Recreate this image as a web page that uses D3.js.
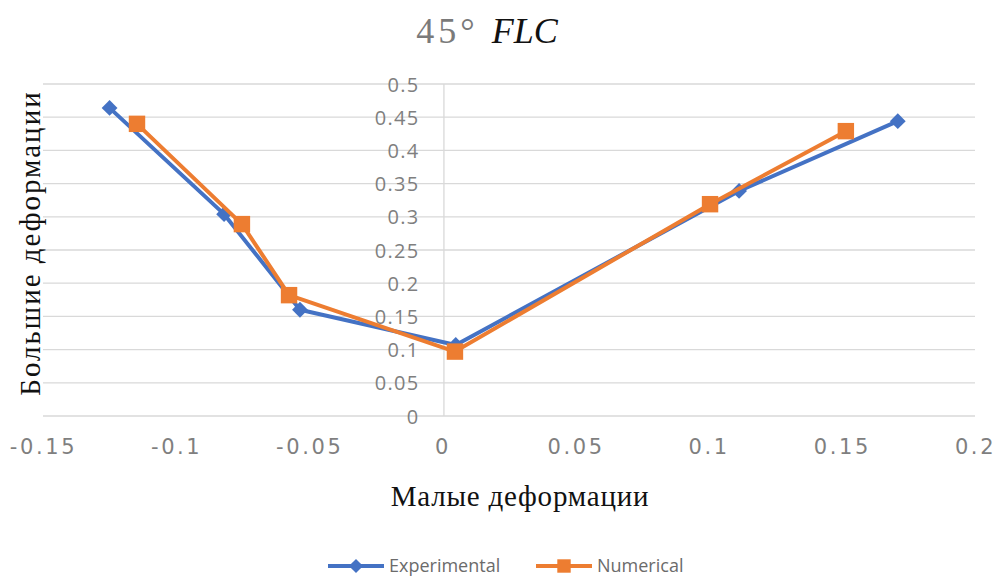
<!DOCTYPE html>
<html>
<head>
<meta charset="utf-8">
<script src="https://cdn.jsdelivr.net/npm/d3@7"></script>
<style>
  html, body { margin: 0; padding: 0; background: #fff; }
  svg { display: block; }
</style>
</head>
<body>
<svg id="chart" width="999" height="580"></svg>
<script>
// Forming limit curve data: minor strain (x) vs major strain (y)
const experimentalMinor = [-0.125, -0.082, -0.0535, 0.005, 0.1114, 0.171];
const experimentalMajor = [0.464, 0.304, 0.160, 0.107, 0.339, 0.444];
const numericalMinor = [-0.1147, -0.0753, -0.0576, 0.0047, 0.1005, 0.1515];
const numericalMajor = [0.440, 0.289, 0.182, 0.097, 0.319, 0.429];

const xTicks = [-0.15, -0.1, -0.05, 0, 0.05, 0.1, 0.15, 0.2];
const yTicks = [0, 0.05, 0.1, 0.15, 0.2, 0.25, 0.3, 0.35, 0.4, 0.45, 0.5];

const seriesNames = ["Experimental", "Numerical"];
const seriesColors = ["#4472C4", "#ED7D31"];

const svg = d3.select("#chart");

const x = d3.scaleLinear().domain([-0.15, 0.2]).range([43, 975]);
const y = d3.scaleLinear().domain([0, 0.5]).range([416, 84]);

const fmt = d => String(d);

// horizontal gridlines
svg.append("g")
  .selectAll("line")
  .data(yTicks)
  .join("line")
  .attr("x1", x.range()[0]).attr("x2", x.range()[1])
  .attr("y1", d => y(d)).attr("y2", d => y(d))
  .attr("stroke", "#d9d9d9").attr("stroke-width", 1.3);

// vertical axis line at x = 0
svg.append("line")
  .attr("x1", x(0) + 1.5).attr("x2", x(0) + 1.5)
  .attr("y1", y(0.5)).attr("y2", y(0))
  .attr("stroke", "#d9d9d9").attr("stroke-width", 1.3);

// y tick labels placed next to the crossing axis
const yAxis = d3.axisLeft(y).tickValues(yTicks).tickFormat(fmt).tickSize(0).tickPadding(0);
const gy = svg.append("g").attr("transform", `translate(${x(0) - 23},0)`).call(yAxis);
gy.select(".domain").remove();
gy.selectAll("text")
  .attr("font-family", "'Open Sans', 'DejaVu Sans', sans-serif")
  .attr("font-size", 20)
  .attr("letter-spacing", 1.3)
  .attr("fill", "#7f7f7f")
  .attr("dy", "0.35em");

// x tick labels along the bottom
const xAxis = d3.axisBottom(x).tickValues(xTicks).tickFormat(fmt).tickSize(0).tickPadding(0);
const gx = svg.append("g").attr("transform", "translate(0,439)").call(xAxis);
gx.select(".domain").remove();
gx.selectAll("text")
  .attr("font-family", "'DejaVu Sans', sans-serif")
  .attr("font-size", 21)
  .attr("letter-spacing", 2.6)
  .attr("fill", "#7f7f7f")
  .attr("dy", "0.71em");

// series
const series = [
  { name: seriesNames[0], color: seriesColors[0], xs: experimentalMinor, ys: experimentalMajor, size: 125, rot: 45 },
  { name: seriesNames[1], color: seriesColors[1], xs: numericalMinor, ys: numericalMajor, size: 270, rot: 0 }
];

const line = d3.line().x(d => x(d[0])).y(d => y(d[1]));

series.forEach(s => {
  const pts = s.xs.map((v, i) => [v, s.ys[i]]);
  svg.append("path")
    .datum(pts)
    .attr("d", line)
    .attr("fill", "none")
    .attr("stroke", s.color)
    .attr("stroke-width", 4)
    .attr("stroke-linejoin", "round");
  svg.append("g")
    .selectAll("path")
    .data(pts)
    .join("path")
    .attr("transform", d => `translate(${x(d[0])},${y(d[1])}) rotate(${s.rot})`)
    .attr("d", d3.symbol().type(d3.symbolSquare).size(s.size))
    .attr("fill", s.color);
});

// title
const title = svg.append("text")
  .attr("x", 487).attr("y", 43)
  .attr("text-anchor", "middle")
  .attr("font-family", "'Liberation Serif', 'DejaVu Serif', serif")
  .attr("font-size", 36);
title.append("tspan").attr("fill", "#7a7a7a").attr("letter-spacing", 4).text("45° ");
title.append("tspan").attr("fill", "#111").attr("font-style", "italic").text("FLC");

// axis titles
svg.append("text")
  .attr("transform", "translate(40,243) rotate(-90)")
  .attr("text-anchor", "middle")
  .attr("font-family", "'Liberation Serif', 'DejaVu Serif', serif")
  .attr("font-size", 29)
  .attr("letter-spacing", 2)
  .attr("fill", "#111")
  .text("Большие деформации");

svg.append("text")
  .attr("x", 520).attr("y", 506)
  .attr("text-anchor", "middle")
  .attr("font-family", "'Liberation Serif', 'DejaVu Serif', serif")
  .attr("font-size", 29)
  .attr("letter-spacing", 0.8)
  .attr("fill", "#111")
  .text("Малые деформации");

// legend
const legendItems = [
  { x0: 328, ...series[0] },
  { x0: 536, ...series[1] }
];
const lg = svg.append("g").attr("transform", "translate(0,566)");
legendItems.forEach((it, i) => {
  lg.append("line")
    .attr("x1", it.x0).attr("x2", it.x0 + 56)
    .attr("stroke", it.color).attr("stroke-width", 4);
  lg.append("path")
    .attr("transform", `translate(${it.x0 + 28},0) rotate(${it.rot})`)
    .attr("d", d3.symbol().type(d3.symbolSquare).size(i === 0 ? 100 : 180))
    .attr("fill", it.color);
  lg.append("text")
    .attr("x", it.x0 + 61).attr("y", 0)
    .attr("dy", "0.35em")
    .attr("font-family", "'Open Sans', 'DejaVu Sans', sans-serif")
    .attr("font-size", 18)
    .attr("fill", "#6b6b6b")
    .text(it.name);
});
</script>
</body>
</html>
